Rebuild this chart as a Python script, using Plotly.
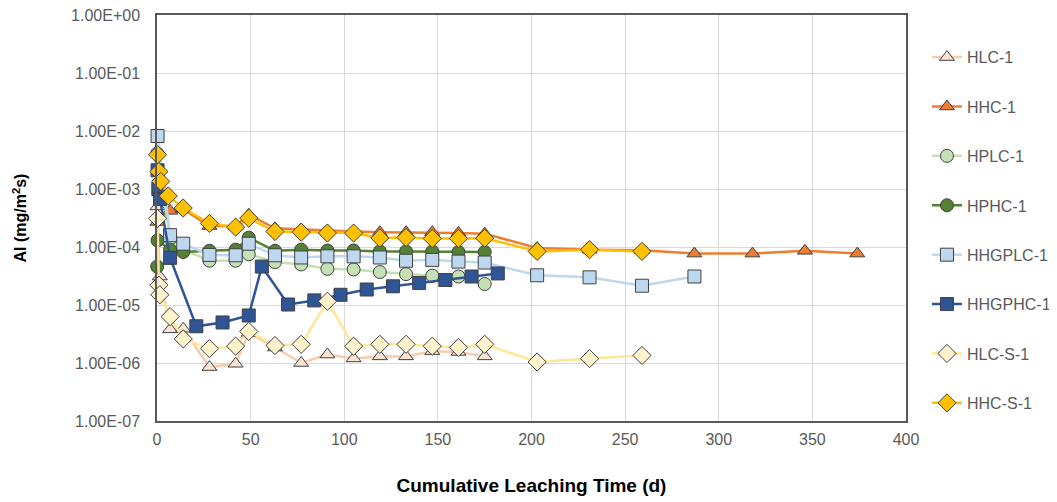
import plotly.graph_objects as go

# ---- data ----
hlc1_x = [0.3, 1.5, 7, 14, 28, 42, 49, 63, 77, 91, 105, 119, 133, 147, 161, 175]
hlc1_y = [5.0e-4, 3.1e-5, 3.8e-6, 3.9e-6, 8.5e-7, 9.7e-7, 3.3e-6, 1.85e-6, 1.0e-6, 1.4e-6, 1.2e-6, 1.3e-6, 1.3e-6, 1.6e-6, 1.55e-6, 1.3e-6]

hhc1_x = [0.2, 7, 14, 28, 42, 49, 63, 77, 91, 105, 119, 133, 147, 161, 175, 203, 231, 259, 287, 318, 346, 374]
hhc1_y = [2.7e-4, 4.2e-4, 4.5e-4, 2.3e-4, 2.3e-4, 3.6e-4, 2.1e-4, 2.0e-4, 1.9e-4, 1.85e-4, 1.8e-4, 1.8e-4, 1.8e-4, 1.75e-4, 1.7e-4, 9.6e-5, 9.0e-5, 8.8e-5, 7.7e-5, 7.7e-5, 8.6e-5, 7.7e-5]

hplc1_x = [0.1, 7, 14, 28, 42, 49, 63, 77, 91, 105, 119, 133, 147, 161, 175]
hplc1_y = [4.1e-3, 1.4e-4, 9.0e-5, 5.8e-5, 5.8e-5, 7.5e-5, 5.5e-5, 5.0e-5, 4.2e-5, 4.1e-5, 3.7e-5, 3.4e-5, 3.2e-5, 3.1e-5, 2.3e-5]

hphc1_x = [0.1, 0.3, 7, 14, 28, 42, 49, 63, 77, 91, 105, 119, 133, 147, 161, 175]
hphc1_y = [4.6e-5, 1.3e-4, 9.0e-5, 8.2e-5, 8.6e-5, 9.0e-5, 1.45e-4, 8.6e-5, 9.0e-5, 8.7e-5, 8.7e-5, 8.4e-5, 8.4e-5, 8.4e-5, 8.2e-5, 8.2e-5]

hhgplc1_x = [0.3, 7, 14, 28, 42, 49, 63, 77, 91, 105, 119, 133, 147, 161, 175, 203, 231, 259, 287]
hhgplc1_y = [8.2e-3, 1.6e-4, 1.14e-4, 7.3e-5, 7.2e-5, 1.14e-4, 7.2e-5, 6.6e-5, 6.9e-5, 6.9e-5, 6.6e-5, 5.8e-5, 6.0e-5, 5.6e-5, 5.4e-5, 3.25e-5, 3.0e-5, 2.15e-5, 3.1e-5]

hhgphc1_x = [0.3, 0.7, 1.6, 7, 21, 35, 49, 56, 70, 84, 98, 112, 126, 140, 154, 168, 182]
hhgphc1_y = [2.1e-3, 1.0e-3, 6.7e-4, 6.5e-5, 4.3e-6, 5.0e-6, 6.6e-6, 4.6e-5, 1.02e-5, 1.2e-5, 1.5e-5, 1.85e-5, 2.1e-5, 2.4e-5, 2.7e-5, 3.1e-5, 3.5e-5]

hlcs1_x = [0.3, 1.0, 1.5, 7, 14, 28, 42, 49, 63, 77, 91, 105, 119, 133, 147, 161, 175, 203, 231, 259]
hlcs1_y = [3.1e-4, 2.2e-5, 1.5e-5, 6.3e-6, 2.6e-6, 1.77e-6, 1.95e-6, 3.5e-6, 2.0e-6, 2.1e-6, 1.16e-5, 1.95e-6, 2.1e-6, 2.1e-6, 1.95e-6, 1.85e-6, 2.1e-6, 1.04e-6, 1.19e-6, 1.35e-6]

hhcs1_x = [0.3, 1.0, 2.0, 6, 14, 28, 42, 49, 63, 77, 91, 105, 119, 133, 147, 161, 175, 203, 231, 259]
hhcs1_y = [3.9e-3, 2.0e-3, 1.35e-3, 7.6e-4, 4.7e-4, 2.55e-4, 2.2e-4, 3.15e-4, 1.85e-4, 1.8e-4, 1.74e-4, 1.74e-4, 1.43e-4, 1.46e-4, 1.4e-4, 1.4e-4, 1.42e-4, 8.4e-5, 9.0e-5, 8.4e-5]

y_tickvals = [1e-7, 1e-6, 1e-5, 1e-4, 1e-3, 1e-2, 1e-1, 1e0]
y_ticktext = ["1.00E-07", "1.00E-06", "1.00E-05", "1.00E-04", "1.00E-03", "1.00E-02", "1.00E-01", "1.00E+00"]
x_tickvals = [0, 50, 100, 150, 200, 250, 300, 350, 400]

series = [
    ("HLC-1", hlc1_x, hlc1_y, "#f8cbad", "#fbe3d4", "triangle-up", 13),
    ("HHC-1", hhc1_x, hhc1_y, "#ed7d31", "#ed7d31", "triangle-up", 13),
    ("HPLC-1", hplc1_x, hplc1_y, "#c5e0b4", "#c5e0b4", "circle", 13),
    ("HPHC-1", hphc1_x, hphc1_y, "#548235", "#548235", "circle", 13),
    ("HHGPLC-1", hhgplc1_x, hhgplc1_y, "#bdd7ee", "#bdd7ee", "square", 13),
    ("HHGPHC-1", hhgphc1_x, hhgphc1_y, "#2f5597", "#2f5597", "square", 13),
    ("HLC-S-1", hlcs1_x, hlcs1_y, "#ffe699", "#fff2cc", "diamond", 14),
    ("HHC-S-1", hhcs1_x, hhcs1_y, "#ffc000", "#ffc000", "diamond", 14),
]

fig = go.Figure()
for name, xs, ys, lc, fc, sym, sz in series:
    fig.add_trace(go.Scatter(
        x=xs, y=ys, name=name, mode="lines+markers",
        line=dict(color=lc, width=2.5),
        marker=dict(symbol=sym, size=sz, color=fc, line=dict(color="#404040", width=1)),
        cliponaxis=False, legendgroup=name,
    ))

grid = "#d9d9d9"
axis_line = "#595959"
fig.update_layout(
    width=1057, height=502,
    margin=dict(l=149, r=159, t=7, b=89),
    paper_bgcolor="white", plot_bgcolor="white",
    font=dict(family="Liberation Sans, Arial, sans-serif", size=16, color="#595959"),
    showlegend=True,
    legend=dict(
        x=1.028, y=0.938, xanchor="left", yanchor="top",
        font=dict(size=16, color="#595959"),
        tracegroupgap=25.6,
        bgcolor="rgba(0,0,0,0)",
    ),
    xaxis=dict(
        range=[0, 400], tickvals=x_tickvals, ticks="", automargin=False,
        showgrid=True, gridcolor=grid, gridwidth=1,
        showline=True, linecolor=axis_line, linewidth=1.5, mirror=True,
        zeroline=False, ticklabelstandoff=3, ticklabeloverflow="allow",
        tickfont=dict(family="Liberation Sans Narrow, Arial Narrow, Liberation Sans", size=16, color="#595959"),
        title=dict(text="<b>Cumulative Leaching Time (d)</b>", standoff=32,
                   font=dict(family="Liberation Sans Narrow, Arial Narrow, Liberation Sans", size=19, color="#000000")),
    ),
    yaxis=dict(
        type="log", range=[-7, 0], tickvals=y_tickvals, ticktext=y_ticktext, ticks="",
        automargin=False,
        showgrid=True, gridcolor=grid, gridwidth=1,
        showline=True, linecolor=axis_line, linewidth=1.5, mirror=True,
        zeroline=False, ticklabelstandoff=12, ticklabeloverflow="allow",
        tickfont=dict(size=16, color="#595959"),
        title=dict(text="<b>Al (mg/m<sup>2</sup>s)</b>", standoff=40,
                   font=dict(size=16, color="#000000")),
    ),
)

fig.write_html("out.html")
